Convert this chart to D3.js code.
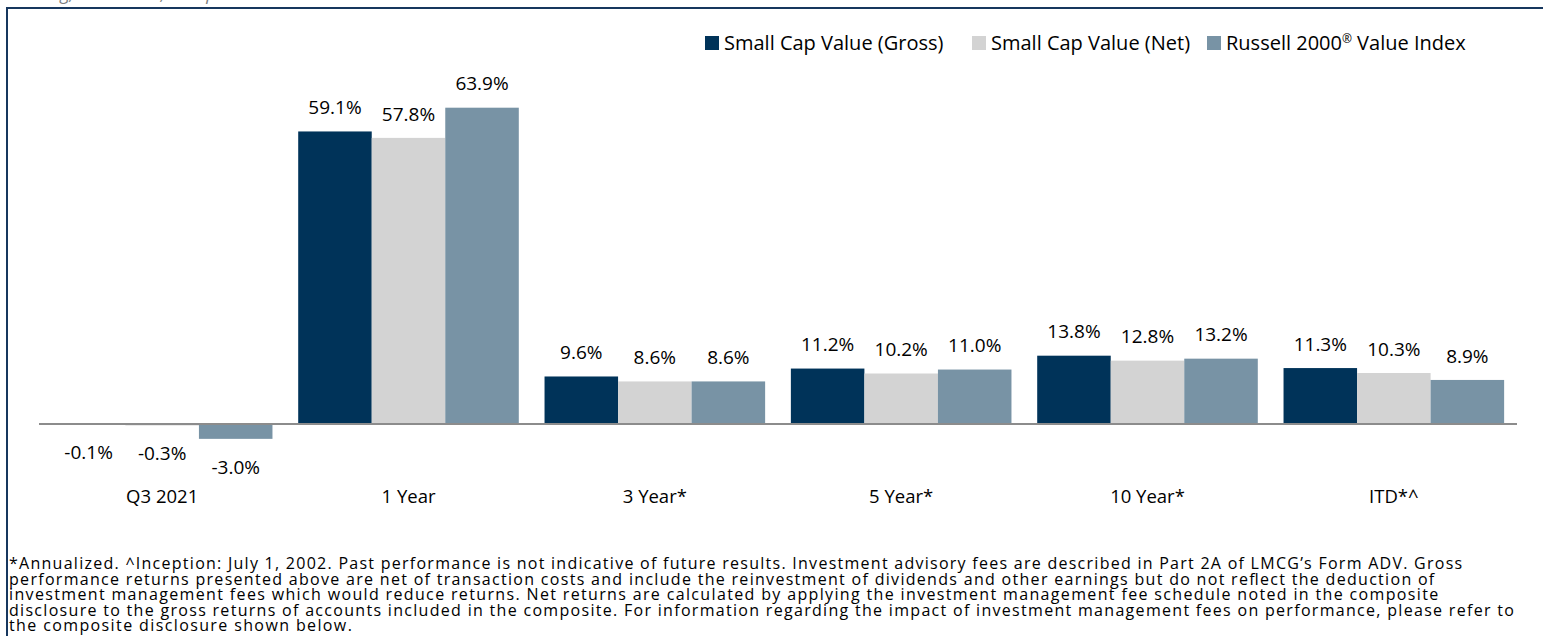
<!DOCTYPE html>
<html>
<head>
<meta charset="utf-8">
<script src="https://cdn.jsdelivr.net/npm/d3@7"></script>
<style>
  html, body { margin: 0; padding: 0; background: #fff; }
  svg { display: block; }
</style>
</head>
<body>
<div class="canvas"></div>
<script>

// chart data
const categories = ['Q3 2021', '1 Year', '3 Year*', '5 Year*', '10 Year*', 'ITD*^'];
const seriesNames = ['Small Cap Value (Gross)', 'Small Cap Value (Net)', 'Russell 2000\u00ae Value Index'];
const grossValues = [-0.1, 59.1, 9.6, 11.2, 13.8, 11.3];
const netValues = [-0.3, 57.8, 8.6, 10.2, 12.8, 10.3];
const russellValues = [-3.0, 63.9, 8.6, 11.0, 13.2, 8.9];
const footnoteLines = [
    '*Annualized.  ^Inception: July 1, 2002.  Past performance is not indicative of future results. Investment advisory fees are described in Part 2A of LMCG\u2019s Form ADV. Gross',
    'performance returns presented above are net of transaction costs and include the reinvestment of dividends and other earnings but do not reflect the deduction of',
    'investment management fees which would reduce returns. Net returns are calculated by applying the investment management fee schedule noted in the composite',
    'disclosure to the gross returns of accounts included in the composite. For information regarding the impact of investment management fees on performance, please refer to',
    'the composite disclosure shown below.'
];
const headerText = 'Trailing, 9/30/2021, Composite Returns';

const colors = ['#003359', '#d3d3d3', '#7893a5'];
const seriesValues = [grossValues, netValues, russellValues];

const width = 1543;
const height = 636;
const plot = { left: 39, right: 1517 };

const svg = d3.select('.canvas')
    .append('svg')
        .attr('width', width)
        .attr('height', height)
        .style('font-family', '"Open Sans", sans-serif');

// header text, mostly cut off at the top of the picture
svg.append('text')
    .attr('x', 10)
    .attr('y', 0)
    .attr('font-size', 18)
    .attr('font-style', 'italic')
    .attr('fill', '#7f7f7f')
    .text(headerText);

// frame lines (top and left)
svg.append('path')
    .attr('d', `M7,${height} V8 H${width}`)
    .attr('fill', 'none')
    .attr('stroke', '#17375e')
    .attr('stroke-width', 2);

// scales
const x0 = d3.scaleBand()
    .domain(categories)
    .range([plot.left, plot.right])
    .padding(0);

const x1 = d3.scaleBand()
    .domain(d3.range(seriesNames.length))
    .range([0, x0.bandwidth()])
    .paddingInner(0)
    .paddingOuter(0.175);

const y = d3.scaleLinear()
    .domain([-10, 70])
    .range([473.5, 77.5]);

// hyphen minus like the original labels
const locale = d3.formatLocale({ decimal: '.', thousands: ',', grouping: [3], currency: ['$', ''], minus: '-' });
const fmt = d => locale.format('.1f')(d) + '%';

// build rows
const rows = categories.map((c, i) => ({
    cat: c,
    vals: seriesValues.map((s, k) => ({ k, v: s[i] }))
}));

const groups = svg.selectAll('g.cat')
    .data(rows)
    .enter()
    .append('g')
        .attr('class', 'cat')
        .attr('transform', d => `translate(${x0(d.cat)}, 0)`);

groups.selectAll('rect')
    .data(d => d.vals)
    .enter()
    .append('rect')
        .attr('x', d => x1(d.k))
        .attr('width', x1.bandwidth())
        .attr('y', d => y(Math.max(0, d.v)))
        .attr('height', d => Math.abs(y(d.v) - y(0)))
        .attr('fill', d => colors[d.k]);

// value labels
groups.selectAll('text.val')
    .data(d => d.vals)
    .enter()
    .append('text')
        .attr('class', 'val')
        .attr('x', d => x1(d.k) + x1.bandwidth() / 2)
        .attr('y', d => d.v >= 0 ? y(d.v) - 24 : y(d.v) + 28)
        .attr('dy', '0.35em')
        .attr('text-anchor', 'middle')
        .attr('font-size', 19)
        .attr('fill', '#000')
        .text(d => fmt(d.v));

// zero line
svg.append('line')
    .attr('x1', plot.left)
    .attr('x2', plot.right)
    .attr('y1', y(0))
    .attr('y2', y(0))
    .attr('stroke', '#8c8c8c')
    .attr('stroke-width', 2);

// category axis labels
const xAxis = d3.axisBottom(x0).tickSize(0).tickPadding(0);
const xAxisGroup = svg.append('g')
    .attr('transform', 'translate(0, 497)')
    .call(xAxis);
xAxisGroup.select('.domain').remove();
xAxisGroup.selectAll('text')
    .attr('dy', '0.35em')
    .attr('y', 0)
    .attr('font-size', 18.5)
    .attr('font-family', '"Open Sans", sans-serif')
    .attr('fill', '#000');

// legend
const legendX = [705, 972, 1207];
const legend = svg.selectAll('g.legend')
    .data(seriesNames)
    .enter()
    .append('g')
        .attr('class', 'legend')
        .attr('transform', (d, i) => `translate(${legendX[i]}, 43)`);

legend.append('rect')
    .attr('x', 0)
    .attr('y', -7)
    .attr('width', 14)
    .attr('height', 14)
    .attr('fill', (d, i) => colors[i]);

const legendText = legend.append('text')
    .attr('x', 19)
    .attr('y', 7)
    .attr('font-size', 20)
    .attr('fill', '#000');

// small raised ® as in the original legend
legendText.each(function(d) {
    const t = d3.select(this);
    d.split('\u00ae').forEach((part, i) => {
        if (i > 0) {
            t.append('tspan')
                .attr('font-size', 12)
                .attr('dy', -7)
                .text('\u00ae');
            t.append('tspan')
                .attr('dy', 7)
                .text(part);
        } else {
            t.append('tspan').text(part);
        }
    });
});

// footnote, widened to the original line lengths
const footnote = svg.append('g')
    .selectAll('text')
    .data(footnoteLines)
    .enter()
    .append('text')
        .attr('x', 9)
        .attr('y', (d, i) => 569 + i * 15.6)
        .attr('font-size', 16)
        .attr('fill', '#000')
        .text(d => d);

footnote.each(function() {
    const len = this.getComputedTextLength();
    d3.select(this)
        .attr('textLength', len * 1.17)
        .attr('lengthAdjust', 'spacing');
});

</script>
</body>
</html>
